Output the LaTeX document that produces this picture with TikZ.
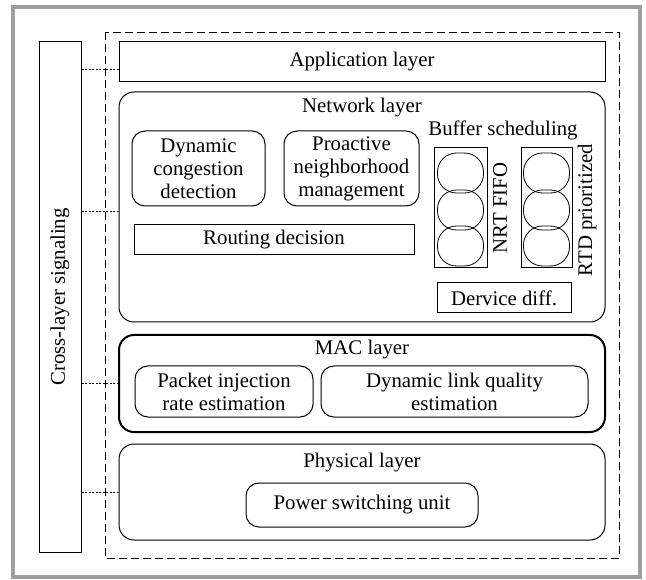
\documentclass[tikz,border=0pt]{standalone}
\usepackage{fontspec}
\setmainfont{Liberation Serif}
\begin{document}
\begin{tikzpicture}[x=1pt, y=-1pt, line width=1pt,
	font=\fontsize{20.8}{23}\selectfont,
	box/.style={draw, rectangle, inner sep=0pt, align=center},
	layer/.style={draw, rounded corners=15pt, inner sep=0pt},
	unit/.style={draw, rounded corners=13pt, inner sep=0pt, align=center},
	slot/.style={draw, rounded corners=19pt, inner sep=0pt, line width=0.8pt, minimum width=46pt, minimum height=40pt},
	title/.style={inner sep=0pt},
	link/.style={dash pattern=on 2pt off 1.5pt, line width=0.8pt}]
	\useasboundingbox (0,0) rectangle (646,580);
	\draw[line width=4pt, black!38] (13,7) rectangle (640,577);
	\draw[dash pattern=on 8pt off 4pt, line width=0.9pt] (105,32) rectangle (619,558);
	
	\node[box, rotate=90, minimum width=510pt, minimum height=42pt] (sig) at (60,297) {Cross-layer signaling};
	
	\node[box, minimum width=486pt, minimum height=40pt] (app) at (362,62) {Application layer};
	
	\node[layer, minimum width=486pt, minimum height=230pt] (net) at (362,207) {};
	\node[title] (nettitle) at (362,108) {Network layer};
	\node[unit, minimum width=133pt, minimum height=75pt] (cong) at (198.5,168.5) {Dynamic\\congestion\\detection};
	\node[unit, minimum width=135pt, minimum height=75pt] (neigh) at (351.5,168.5) {Proactive\\neighborhood\\management};
	\node[box, minimum width=280pt, minimum height=30pt] (route) at (274,240) {Routing decision};
	\node[title] (buf) at (503,130) {Buffer scheduling};
	\node[box, minimum width=53pt, minimum height=120pt] (nrt) at (460.5,208) {};
	\node[box, minimum width=51pt, minimum height=120pt] (rtd) at (546.5,208) {};
	\foreach \i/\y in {1/173,2/210,3/246} {
		\node[slot] (nrt\i) at (460.5,\y) {};
		\node[slot] (rtd\i) at (546.5,\y) {};
	}
	\node[title, rotate=90] (nrtlabel) at (500,208) {NRT FIFO};
	\node[title, rotate=90] (rtdlabel) at (587,210) {RTD prioritized};
	\node[box, minimum width=134pt, minimum height=30pt] (dev) at (504,298) {Dervice diff.};
	
	\node[layer, line width=2pt, minimum width=486pt, minimum height=97pt] (mac) at (362,383.5) {};
	\node[title] (mactitle) at (362,350) {MAC layer};
	\node[unit, minimum width=178pt, minimum height=51pt] (inj) at (224,391.5) {Packet injection\\rate estimation};
	\node[unit, minimum width=267pt, minimum height=51pt] (lq) at (454.5,391.5) {Dynamic link quality\\estimation};
	
	\node[layer, minimum width=486pt, minimum height=96pt] (phy) at (362,492) {};
	\node[title] (phytitle) at (362,463) {Physical layer};
	\node[unit, minimum width=232pt, minimum height=44pt] (psu) at (362,505) {Power switching unit};
	
	% signaling links (sig is turned, so its right side is sig.south)
	\coordinate (appin) at ([yshift=-7pt]app.west);
	\coordinate (netin) at ([yshift=-4pt]net.west);
	\draw[link] (appin -| sig.south) -- (appin);
	\draw[link] (netin -| sig.south) -- (netin);
	\draw[link] (mac.west -| sig.south) -- (mac.west);
	\draw[link] (phy.west -| sig.south) -- (phy.west);
\end{tikzpicture}
\end{document}
